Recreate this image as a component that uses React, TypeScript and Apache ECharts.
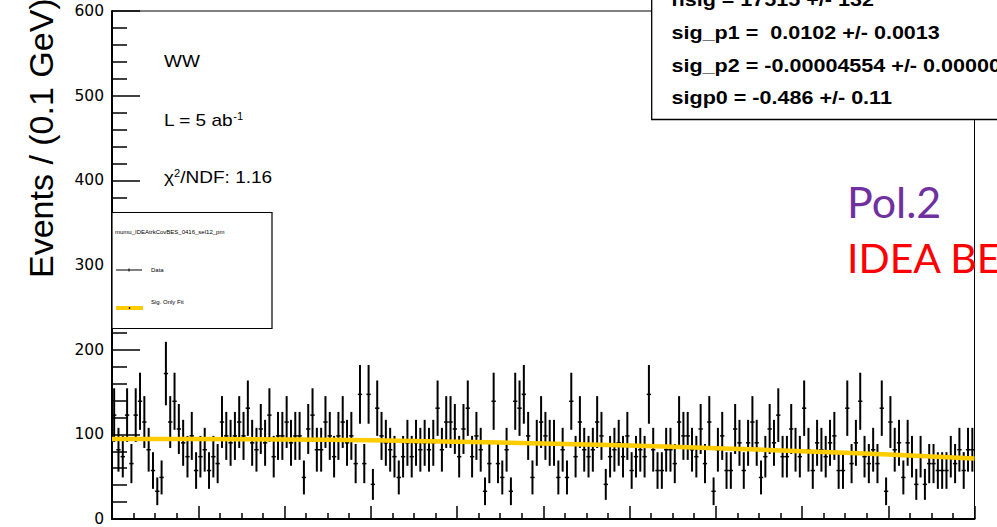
import React, { useEffect, useRef } from "react";
import * as echarts from "echarts";

// ---- data ----
// event counts per 0.1 GeV bin (each event carries the same weight)
const binCounts: number[] = [
  15, 10, 9, 15, 8, 15, 17, 14, 10, 7, 4, 6, 21, 14, 17, 13, 11, 9, 12, 7,
  9, 10, 7, 9, 8, 14, 12, 11, 12, 14, 12, 16, 11, 10, 13, 11, 15, 9, 12, 12,
  14, 11, 12, 12, 6, 13, 15, 10, 10, 14, 12, 9, 12, 14, 11, 12, 8, 18, 8, 18,
  5, 16, 12, 11, 10, 9, 6, 9, 11, 9, 11, 10, 11, 10, 11, 16, 10, 14, 14, 13,
  9, 13, 16, 9, 12, 10, 4, 8, 17, 8, 6, 10, 4, 17, 16, 18, 12, 6, 11, 14,
  12, 11, 11, 6, 10, 6, 17, 9, 14, 10, 9, 10, 14, 12, 5, 9, 10, 11, 9, 12,
  7, 9, 10, 9, 18, 10, 7, 7, 10, 10, 8, 14, 12, 12, 10, 9, 13, 8, 14, 4,
  10, 12, 7, 7, 13, 11, 7, 11, 14, 11, 6, 9, 13, 11, 15, 9, 9, 13, 10, 9,
  16, 10, 7, 11, 10, 9, 11, 12, 7, 7, 16, 8, 11, 17, 9, 8, 10, 8, 16, 4,
  14, 10, 11, 6, 11, 9, 5, 9, 5, 8, 8, 7, 7, 7, 9, 8, 10, 7, 10, 10,
];
const eventWeight = 8.18;
const xMin = 0;
const xMax = 20;
const binWidth = 0.1;

// signal-only fit (pol2), read at every 2 GeV
const fitX: number[] = [0, 2, 4, 6, 8, 10, 12, 14, 16, 18, 20];
const fitValues: number[] = [94.5, 94.4, 93.9, 92.9, 91.3, 89.3, 86.7, 83.7, 80.1, 76.1, 71.5];

const yMin = 0;
const yMax = 600;
const yStep = 100;
const xStep = 2;

const statsLines: string[] = [
  "nsig = 17515 +/- 132",
  "sig_p1 =  0.0102 +/- 0.0013",
  "sig_p2 = -0.00004554 +/- 0.0000062",
  "sigp0 = -0.486 +/- 0.11",
];
const legendHeader = "mumu_IDEAtrkCovBES_0416_sel12_pm";
const legendEntries: string[] = ["Data", "Sig. Only Fit"];
const yTitle = "Events / (0.1 GeV)";

const SANS = "'Liberation Sans', Arial, Helvetica, sans-serif";

export default function App() {
  const ref = useRef<HTMLDivElement>(null);

  useEffect(() => {
    if (!ref.current) return;
    const chart = echarts.init(ref.current, null, { renderer: "svg" });

    const points = binCounts.map((k, i) => [
      xMin + (i + 0.5) * binWidth,
      k * eventWeight,
      eventWeight * Math.sqrt(k),
    ]);
    const fitData = fitX.map((x, i) => [x, fitValues[i]]);

    const tickStyle = { color: "#000", width: 1.5 };

    const txt = (text: string, x: number, y: number, opts: any = {}) => ({
      type: "text",
      x,
      y,
      z: 100,
      scaleX: opts.scaleX ?? 1,
      scaleY: opts.scaleY ?? 1,
      rotation: opts.rotation ?? 0,
      style: {
        text,
        fill: opts.fill ?? "#000",
        fontSize: opts.fontSize ?? 17,
        fontFamily: opts.fontFamily ?? SANS,
        fontWeight: opts.fontWeight ?? "normal",
        align: opts.align ?? "left",
        verticalAlign: opts.verticalAlign ?? "middle",
        textAlign: opts.align ?? "left",
        textVerticalAlign: opts.verticalAlign ?? "middle",
        rich: opts.rich,
      },
    });

    const supRich = {
      a: { fontSize: 17, fontFamily: SANS, fill: "#000" },
      s: { fontSize: 10, fontFamily: SANS, fill: "#000", verticalAlign: "top" },
    };

    const graphic: any[] = [
      // y-axis title
      txt(yTitle, 41, 278, { fontSize: 34, rotation: Math.PI / 2 }),
      // annotations
      txt("WW", 164, 61, { fontSize: 17, scaleX: 1.12 }),
      txt("{a|L = 5 ab}{s|-1}", 164, 120, { scaleX: 1.12, rich: supRich }),
      txt("{a|\u03c7}{s|2}{a|/NDF: 1.16}", 164, 177, { scaleX: 1.12, rich: supRich }),
      // legend box
      {
        type: "rect",
        z: 99,
        shape: { x: 112, y: 212.5, width: 160, height: 116 },
        style: { fill: "#fff", stroke: "#000", lineWidth: 1.2 },
      },
      txt(legendHeader, 115, 232, { fontSize: 6 }),
      {
        type: "line",
        z: 100,
        shape: { x1: 116, y1: 270, x2: 142, y2: 270 },
        style: { stroke: "#000", lineWidth: 1 },
      },
      {
        type: "line",
        z: 100,
        shape: { x1: 129, y1: 268.5, x2: 129, y2: 271.5 },
        style: { stroke: "#000", lineWidth: 1 },
      },
      txt(legendEntries[0], 151, 270, { fontSize: 6 }),
      {
        type: "rect",
        z: 100,
        shape: { x: 116, y: 306, width: 27, height: 4 },
        style: { fill: "#FFCC00" },
      },
      {
        type: "circle",
        z: 101,
        shape: { cx: 129.5, cy: 308, r: 0.8 },
        style: { fill: "#000" },
      },
      txt(legendEntries[1], 151, 302, { fontSize: 6 }),
      // stats box
      {
        type: "rect",
        z: 99,
        shape: { x: 651.7, y: -20, width: 500, height: 139.5 },
        style: { fill: "#fff", stroke: "#000", lineWidth: 1.3 },
      },
      ...statsLines.map((s, i) =>
        txt(s, 671.5, -0.5 + i * 32.8, { fontSize: 18.5, fontWeight: "bold", scaleX: 1.165 })
      ),
      // slide overlay labels
      txt("Pol.2", 847, 201, { fontSize: 43, fontFamily: "Lato, 'Open Sans', sans-serif", fill: "#7030A0" }),
      txt("IDEA BES", 847, 257, { fontSize: 41, fontFamily: "Lato, 'Open Sans', sans-serif", fill: "#FF0000" }),
    ];

    chart.setOption({
      animation: false,
      backgroundColor: "#fff",
      grid: {
        left: 112,
        top: 11,
        right: 22.5,
        bottom: 4.3,
        show: true,
        borderColor: "#000",
        borderWidth: 1,
        backgroundColor: "transparent",
      },
      xAxis: {
        type: "value",
        min: xMin,
        max: xMax,
        interval: xStep,
        axisLine: { show: true, onZero: false, lineStyle: { color: "#000", width: 2 } },
        axisTick: { show: true, inside: true, length: 13, lineStyle: tickStyle },
        minorTick: { show: true, splitNumber: 4, length: 6, lineStyle: tickStyle },
        axisLabel: { show: false },
        splitLine: { show: false },
        minorSplitLine: { show: false },
      },
      yAxis: {
        type: "value",
        min: yMin,
        max: yMax,
        interval: yStep,
        axisLine: { show: true, onZero: false, lineStyle: { color: "#000", width: 2 } },
        axisTick: { show: true, inside: true, length: 28, lineStyle: tickStyle },
        minorTick: { show: true, splitNumber: 5, length: 15, lineStyle: tickStyle },
        axisLabel: {
          show: true,
          margin: 8,
          color: "#000",
          fontSize: 15.5,
          fontFamily: "'DejaVu Sans', sans-serif",
        },
        splitLine: { show: false },
        minorSplitLine: { show: false },
      },
      series: [
        {
          type: "custom",
          name: "Data",
          data: points,
          clip: true,
          z: 3,
          renderItem: (params: any, api: any) => {
            const x = api.value(0);
            const y = api.value(1);
            const e = api.value(2);
            const top = api.coord([x, y + e]);
            const bot = api.coord([x, y - e]);
            const l = api.coord([x - binWidth / 2, y]);
            const r = api.coord([x + binWidth / 2, y]);
            return {
              type: "group",
              children: [
                {
                  type: "line",
                  shape: { x1: top[0], y1: top[1], x2: bot[0], y2: bot[1] },
                  style: { stroke: "#000", lineWidth: 2 },
                },
                {
                  type: "line",
                  shape: { x1: l[0], y1: l[1], x2: r[0], y2: r[1] },
                  style: { stroke: "#000", lineWidth: 1.5 },
                },
              ],
            };
          },
        },
        {
          type: "line",
          name: "Sig. Only Fit",
          data: fitData,
          smooth: true,
          symbol: "none",
          z: 4,
          lineStyle: { color: "#FFCC00", width: 4.5 },
        },
      ],
      graphic,
    });

    return () => chart.dispose();
  }, []);

  return (
    <div
      ref={ref}
      style={{ position: "fixed", left: 0, top: 0, width: 997, height: 527, background: "#fff" }}
    />
  );
}
